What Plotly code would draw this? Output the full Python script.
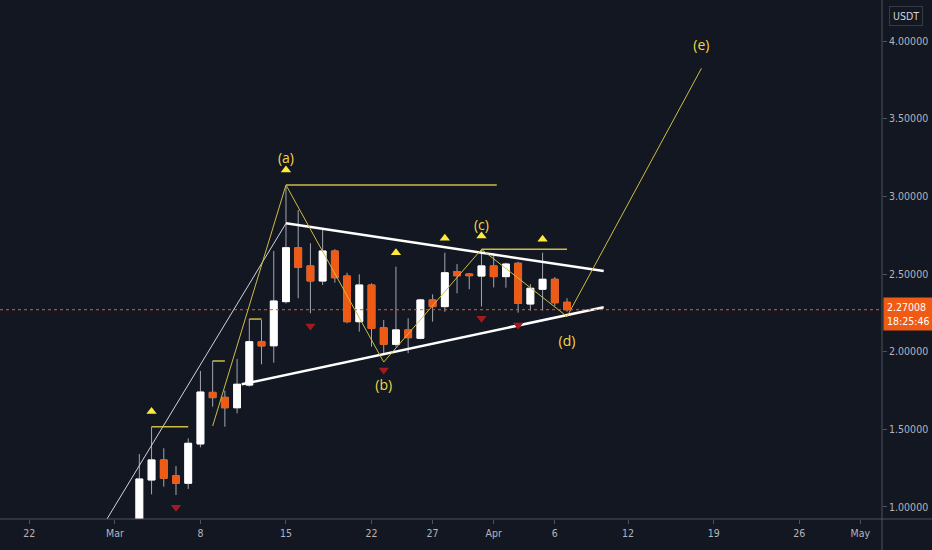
import plotly.graph_objects as go

# ---- daily candles (USDT) ----
dates = ["2021-03-03", "2021-03-04", "2021-03-05", "2021-03-06", "2021-03-07", "2021-03-08",
         "2021-03-09", "2021-03-10", "2021-03-11", "2021-03-12", "2021-03-13", "2021-03-14",
         "2021-03-15", "2021-03-16", "2021-03-17", "2021-03-18", "2021-03-19", "2021-03-20",
         "2021-03-21", "2021-03-22", "2021-03-23", "2021-03-24", "2021-03-25", "2021-03-26",
         "2021-03-27", "2021-03-28", "2021-03-29", "2021-03-30", "2021-03-31", "2021-04-01",
         "2021-04-02", "2021-04-03", "2021-04-04", "2021-04-05", "2021-04-06", "2021-04-07"]
open_ = [0.850, 1.174, 1.303, 1.201, 1.153, 1.406, 1.738, 1.706, 1.639, 1.785, 2.064, 2.038,
         2.322, 2.669, 2.552, 2.455, 2.648, 2.487, 2.193, 2.429, 2.154, 2.047, 2.140, 2.086,
         2.333, 2.290, 2.515, 2.500, 2.487, 2.552, 2.483, 2.569, 2.307, 2.402, 2.466, 2.318]
high = [1.341, 1.517, 1.378, 1.264, 1.442, 1.876, 1.940, 1.749, 1.953, 2.210, 2.204, 2.648,
        3.062, 2.912, 2.698, 2.794, 2.660, 2.508, 2.498, 2.440, 2.204, 2.547, 2.215, 2.340,
        2.369, 2.637, 2.564, 2.505, 2.655, 2.633, 2.573, 2.579, 2.436, 2.637, 2.480, 2.344]
low = [0.800, 1.082, 1.131, 1.077, 1.116, 1.384, 1.646, 1.517, 1.603, 1.775, 1.919, 1.929,
       2.310, 2.344, 2.247, 2.429, 2.444, 2.183, 2.129, 2.032, 1.990, 2.032, 1.990, 2.080,
       2.193, 2.257, 2.376, 2.402, 2.291, 2.414, 2.412, 2.251, 2.264, 2.264, 2.294, 2.257]
close = [1.180, 1.303, 1.185, 1.153, 1.410, 1.740, 1.704, 1.639, 1.790, 2.064, 2.037, 2.326,
         2.669, 2.543, 2.455, 2.648, 2.476, 2.193, 2.429, 2.150, 2.047, 2.140, 2.090, 2.333,
         2.290, 2.508, 2.489, 2.489, 2.552, 2.483, 2.564, 2.311, 2.408, 2.466, 2.315, 2.27008]

last_price = 2.27008
countdown = "18:25:46"
currency = "USDT"

# ---- drawings ----
wave_dates = ["2021-03-09", "2021-03-15", "2021-03-23", "2021-03-31", "2021-04-07", "2021-04-18"]
wave_prices = [1.521, 3.073, 1.933, 2.659, 2.226, 3.824]
wave_label_dates = ["2021-03-15", "2021-03-23", "2021-03-31", "2021-04-07", "2021-04-18"]
wave_label_prices = [3.234, 1.773, 2.803, 2.056, 3.963]
wave_labels = ["(a)", "(b)", "(c)", "(d)", "(e)"]

upper_trend_dates = ["2021-03-15", "2021-04-10"]
upper_trend_prices = [2.826, 2.519]
lower_trend_dates = ["2021-03-11 09:00", "2021-04-10"]
lower_trend_prices = [1.790, 2.286]
thin_line_dates = ["2021-02-27", "2021-03-15"]
thin_line_prices = [0.747, 2.826]

level_a_dates = ["2021-03-15", "2021-04-01 06:00"]
level_a_price = 3.073
level_c_dates = ["2021-03-31", "2021-04-07"]
level_c_price = 2.659

bracket_start = ["2021-03-04", "2021-03-09", "2021-03-12"]
bracket_end = ["2021-03-07", "2021-03-10", "2021-03-13"]
bracket_price = [1.517, 1.940, 2.210]

up_marker_dates = ["2021-03-04", "2021-03-15", "2021-03-24", "2021-03-28", "2021-03-31", "2021-04-05"]
up_marker_prices = [1.614, 3.170, 2.637, 2.730, 2.745, 2.723]
down_marker_dates = ["2021-03-06", "2021-03-17", "2021-03-23", "2021-03-31", "2021-04-03"]
down_marker_prices = [0.998, 2.165, 1.882, 2.215, 2.172]

tick_dates = ["2021-02-22", "2021-03-01", "2021-03-08", "2021-03-15", "2021-03-22", "2021-03-27",
              "2021-04-01", "2021-04-06", "2021-04-12", "2021-04-19", "2021-04-26", "2021-05-01"]
tick_text = ["22", "Mar", "8", "15", "22", "27", "Apr", "6", "12", "19", "26", "May"]
price_ticks = [1.0, 1.5, 2.0, 2.5, 3.0, 3.5, 4.0]

BG = "#131722"
UP = "#ffffff"
DOWN = "#ef5a14"
WICK = "#a3a6af"
YEL_LINE = "#cdbd45"
YEL_TEXT = "#f2d64a"
YEL_MARK = "#ffe93b"
RED_MARK = "#a31b1f"
AXIS = "#4f525d"
FONT = "DejaVu Sans Condensed, Liberation Sans Narrow, Roboto, sans-serif"

fig = go.Figure()

# wicks
fig.add_trace(go.Candlestick(
    x=dates, open=open_, high=high, low=low, close=close,
    increasing=dict(line=dict(color=WICK, width=1), fillcolor=WICK),
    decreasing=dict(line=dict(color=WICK, width=1), fillcolor=WICK),
    whiskerwidth=0, hoverinfo="skip"))
# bodies
body_hi = [max(o, c) for o, c in zip(open_, close)]
body_lo = [min(o, c) for o, c in zip(open_, close)]
fig.add_trace(go.Candlestick(
    x=dates, open=open_, high=body_hi, low=body_lo, close=close,
    increasing=dict(line=dict(color=UP, width=1), fillcolor=UP),
    decreasing=dict(line=dict(color=DOWN, width=1), fillcolor=DOWN),
    whiskerwidth=0))

# trend lines
fig.add_trace(go.Scatter(x=thin_line_dates, y=thin_line_prices, mode="lines",
                         line=dict(color="#d1d4dc", width=1), hoverinfo="skip"))
fig.add_trace(go.Scatter(x=upper_trend_dates, y=upper_trend_prices, mode="lines",
                         line=dict(color="#ffffff", width=2.5), hoverinfo="skip"))
fig.add_trace(go.Scatter(x=lower_trend_dates, y=lower_trend_prices, mode="lines",
                         line=dict(color="#ffffff", width=2.5), hoverinfo="skip"))

# horizontal levels
fig.add_trace(go.Scatter(x=level_a_dates, y=[level_a_price] * 2, mode="lines",
                         line=dict(color=YEL_LINE, width=1.5), hoverinfo="skip"))
fig.add_trace(go.Scatter(x=level_c_dates, y=[level_c_price] * 2, mode="lines",
                         line=dict(color=YEL_LINE, width=1.5), hoverinfo="skip"))
for s, e, p in zip(bracket_start, bracket_end, bracket_price):
    fig.add_trace(go.Scatter(x=[s, e], y=[p, p], mode="lines",
                             line=dict(color=YEL_LINE, width=1.5), hoverinfo="skip"))

# wave zigzag
fig.add_trace(go.Scatter(x=wave_dates, y=wave_prices, mode="lines",
                         line=dict(color=YEL_LINE, width=1), hoverinfo="skip"))

# pivot markers
fig.add_trace(go.Scatter(x=up_marker_dates, y=up_marker_prices, mode="markers",
                         marker=dict(symbol="triangle-up", size=9, color=YEL_MARK), hoverinfo="skip"))
fig.add_trace(go.Scatter(x=down_marker_dates, y=down_marker_prices, mode="markers",
                         marker=dict(symbol="triangle-down", size=9, color=RED_MARK), hoverinfo="skip"))

# wave labels
fig.add_trace(go.Scatter(x=wave_label_dates, y=wave_label_prices, mode="text", text=wave_labels,
                         textfont=dict(color=YEL_TEXT, size=14, family="Open Sans, sans-serif"),
                         hoverinfo="skip"))

fig.update_layout(
    width=932, height=550,
    margin=dict(l=0, r=50, t=0, b=31),
    paper_bgcolor=BG, plot_bgcolor=BG,
    showlegend=False, boxgap=0.2,
    font=dict(family=FONT, size=10.5, color="#b2b5be"),
    xaxis=dict(type="date", range=["2021-02-19 14:20", "2021-05-02 18:39"],
               rangeslider=dict(visible=False), showgrid=False, zeroline=False,
               tickmode="array", tickvals=tick_dates, ticktext=tick_text,
               ticks="outside", ticklen=4, tickcolor=AXIS, showline=False,
               tickfont=dict(family=FONT, size=10.5, color="#b2b5be")),
    yaxis=dict(side="right", range=[0.9227, 4.264], showgrid=False, zeroline=False,
               tickmode="array", tickvals=price_ticks, tickformat=".5f",
               ticks="outside", ticklen=4, tickcolor=AXIS, showline=False,
               tickfont=dict(family=FONT, size=10.5, color="#b2b5be")),
    shapes=[
        dict(type="line", xref="paper", yref="y", x0=0, x1=1, y0=last_price, y1=last_price,
             line=dict(color=DOWN, width=1, dash="dot")),
        dict(type="line", xref="paper", yref="paper", x0=0, x1=932 / 882, y0=0, y1=0,
             line=dict(color=AXIS, width=1)),
        dict(type="line", xref="paper", yref="paper", x0=1, x1=1, y0=-31 / 519, y1=1,
             line=dict(color=AXIS, width=1)),
    ],
    annotations=[
        dict(xref="paper", yref="y", x=1, y=last_price, xanchor="left", yanchor="middle",
             xshift=1, yshift=-4, showarrow=False, align="left",
             text=f"{last_price:.5f}<br>{countdown}", bgcolor=DOWN, borderpad=3,
             font=dict(family=FONT, size=10.5, color="#ffffff")),
        dict(xref="paper", yref="paper", x=906 / 882, y=1 - 16 / 519, xanchor="center",
             yanchor="middle", showarrow=False, text=currency, bgcolor=BG,
             bordercolor="#363a45", borderwidth=1, borderpad=3,
             font=dict(family=FONT, size=10.5, color="#d1d4dc")),
    ],
)

fig.write_html("out.html", config={"displayModeBar": False},
               post_script="document.body.style.margin='0';document.body.style.background='#131722';")
